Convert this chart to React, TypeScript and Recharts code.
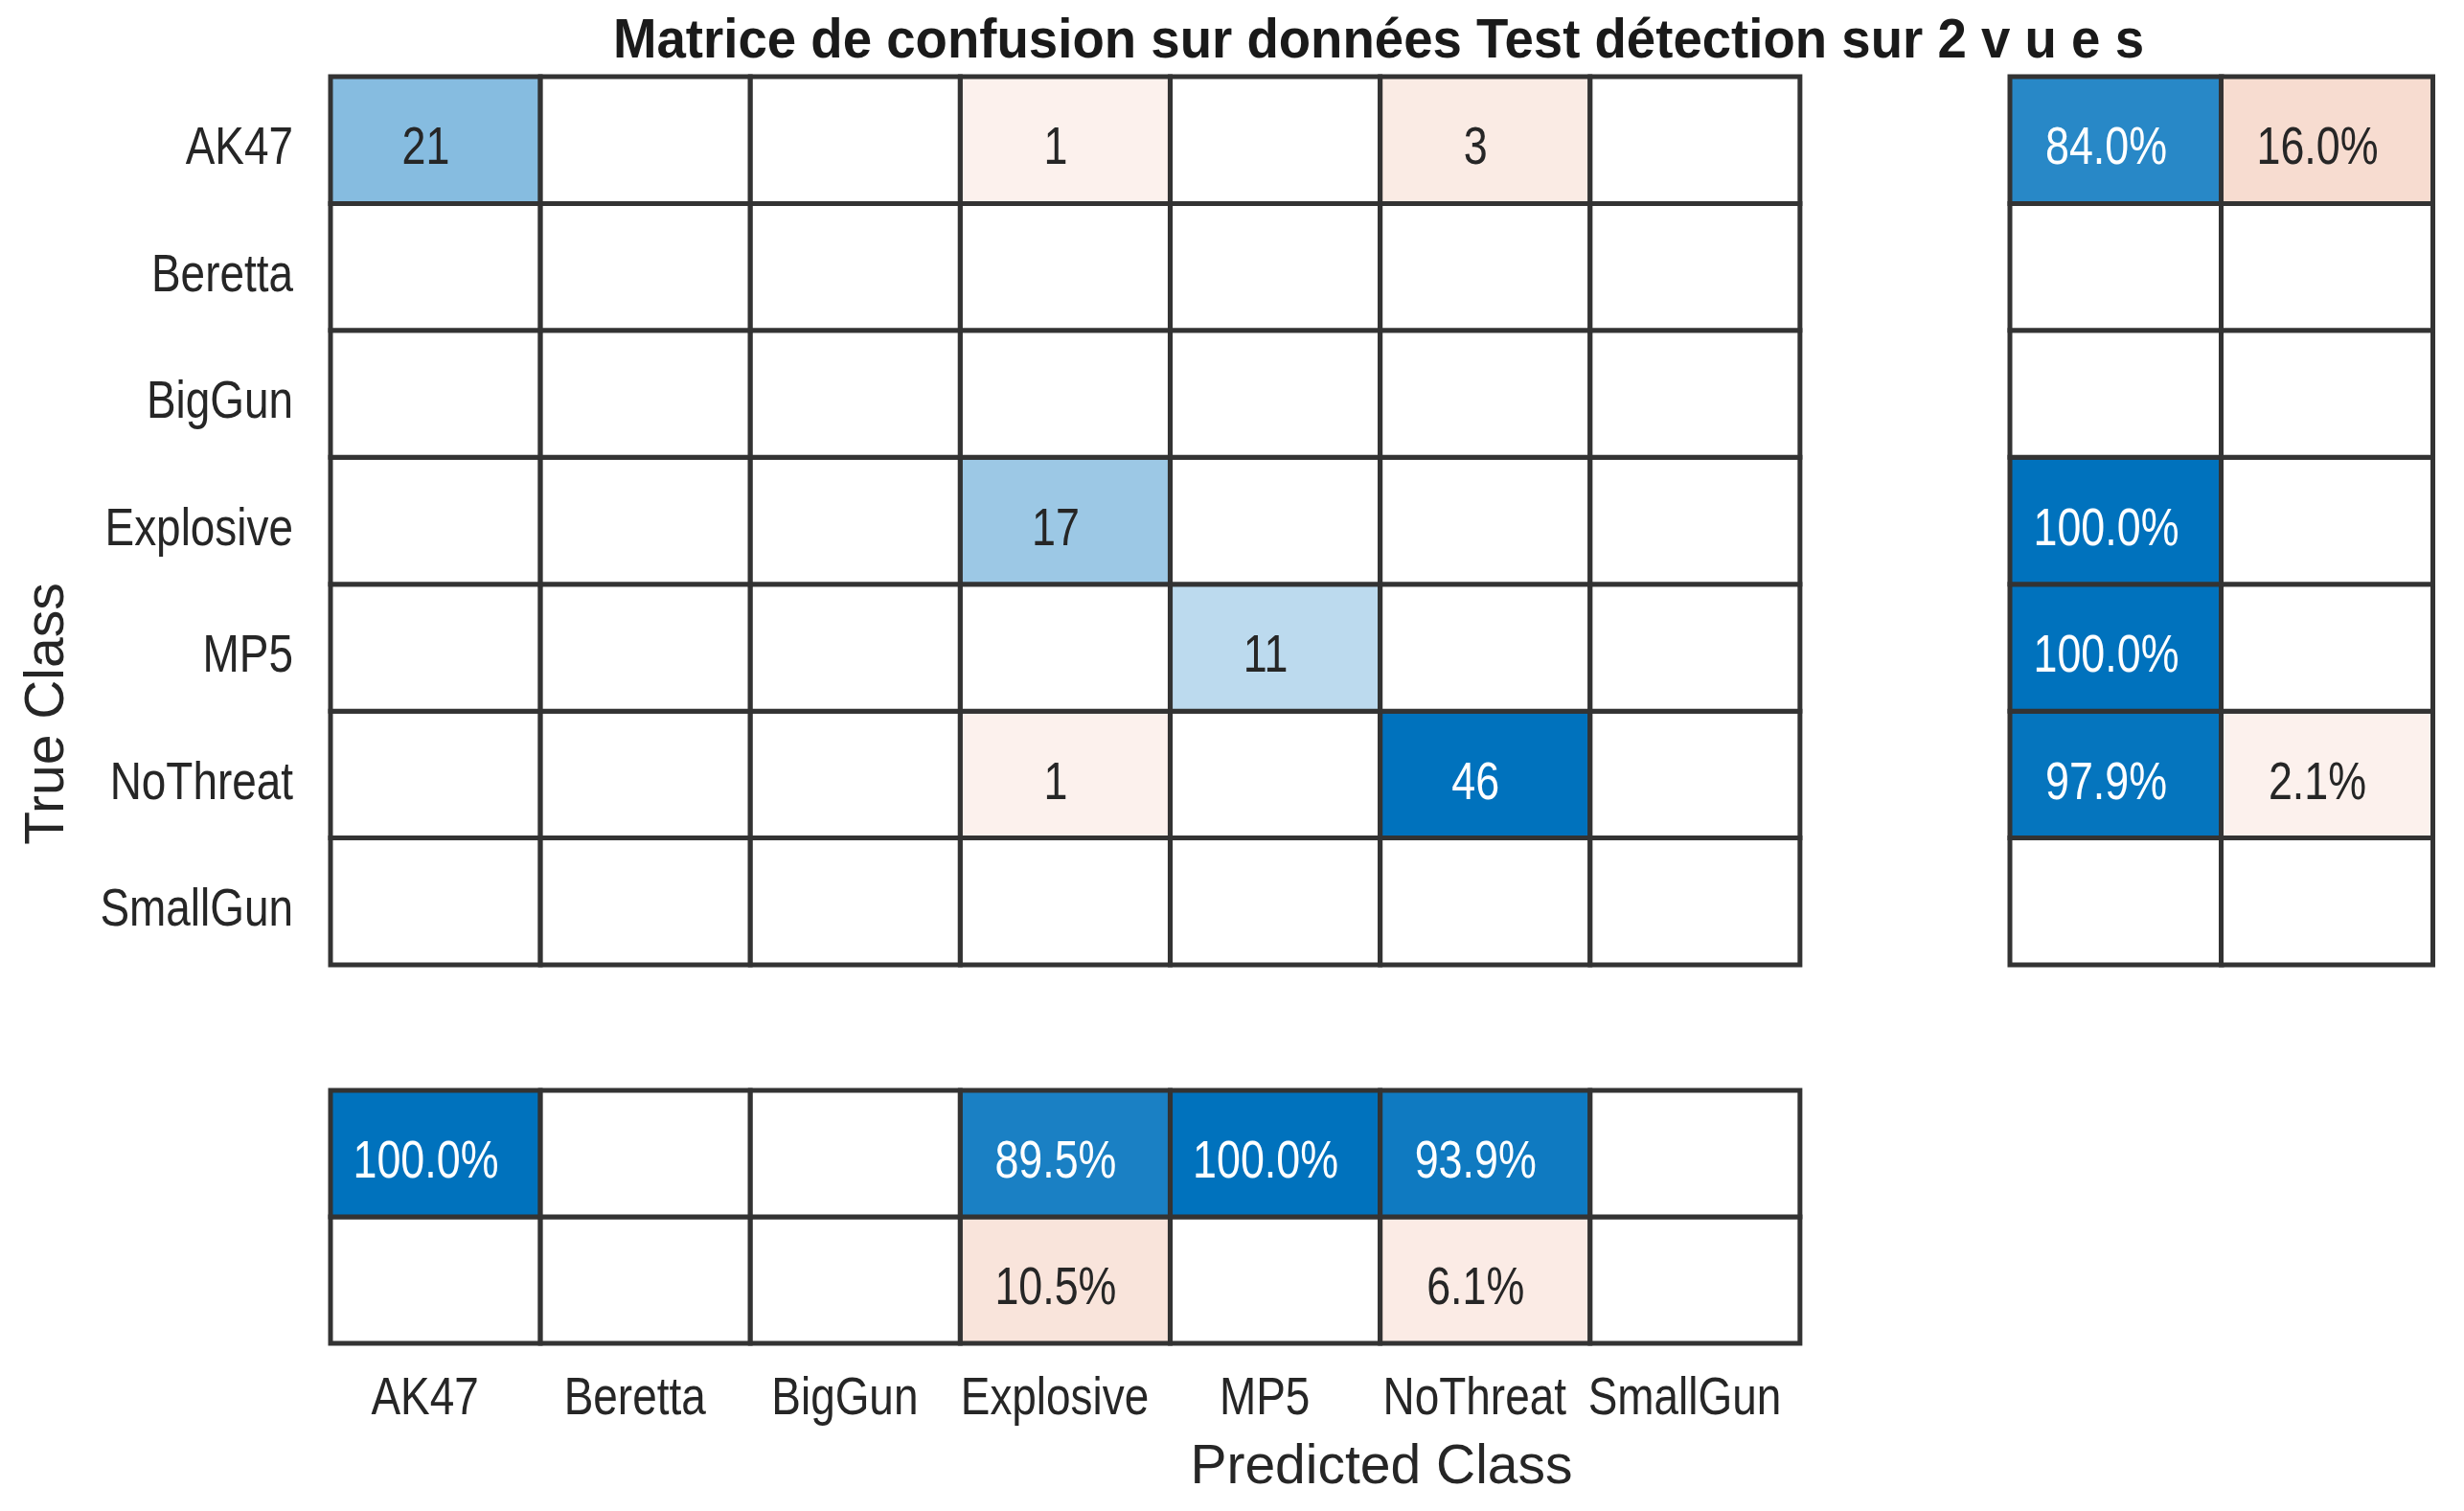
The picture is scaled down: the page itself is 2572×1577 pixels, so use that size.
import { BarChart, Bar, XAxis, YAxis, Cell, LabelList } from 'recharts'

// classes (true = rows, predicted = columns)
const classes = ['AK47', 'Beretta', 'BigGun', 'Explosive', 'MP5', 'NoThreat', 'SmallGun']

// confusion counts, counts[true][predicted]
const counts = [
  [21, 0, 0, 1, 0, 3, 0],
  [0, 0, 0, 0, 0, 0, 0],
  [0, 0, 0, 0, 0, 0, 0],
  [0, 0, 0, 17, 0, 0, 0],
  [0, 0, 0, 0, 11, 0, 0],
  [0, 0, 0, 1, 0, 46, 0],
  [0, 0, 0, 0, 0, 0, 0],
]

// row summary (per true class), percent
const rowCorrect = [84.0, 0, 0, 100.0, 100.0, 97.9, 0]
const rowWrong = [16.0, 0, 0, 0, 0, 2.1, 0]

// column summary (per predicted class), percent
const colCorrect = [100.0, 0, 0, 89.5, 100.0, 93.9, 0]
const colWrong = [0, 0, 0, 10.5, 0, 6.1, 0]

const summaryCols = ['correct', 'wrong']

const FONT = '"Liberation Sans", Arial, sans-serif'
const GRID = '#333333'
const TEXT = '#262626'
const BLUE = [0, 114, 189]
const ORANGE = [217, 83, 25]

function mix(c: number[], t: number) {
  const ch = c.map((v) => Math.round(255 + (v - 255) * t))
  return `rgb(${ch[0]},${ch[1]},${ch[2]})`
}

const blueT = (t: number) => Math.min(1, 0.03 + 0.97 * t)
const orangeT = (t: number) => Math.min(1, 0.06 + 0.9 * t)

function fillFor(t: number, good: boolean) {
  if (t <= 0) return '#ffffff'
  return good ? mix(BLUE, blueT(t)) : mix(ORANGE, orangeT(t))
}

function textFor(t: number, good: boolean) {
  return good && blueT(t) > 0.5 ? '#ffffff' : TEXT
}

const pct = (v: number) => (v > 0 ? v.toFixed(1) + '%' : '')

const maxCount = Math.max(...counts.flat())
const rowTicks = classes.map((_, i) => i + 0.5)
const rowOrder = classes.map((_, i) => classes.length - 1 - i)

const mainData = classes.map((name, j) => {
  const o: any = { name }
  counts.forEach((r, i) => {
    o[`r${i}`] = 1
    o[`c${i}`] = r[j]
  })
  return o
})

const rightData = summaryCols.map((name, k) => {
  const src = k === 0 ? rowCorrect : rowWrong
  const o: any = { name }
  classes.forEach((_, i) => {
    o[`r${i}`] = 1
    o[`v${i}`] = src[i]
  })
  return o
})

const bottomData = classes.map((name, j) => ({
  name,
  correct: 1,
  wrong: 1,
  vc: colCorrect[j],
  vw: colWrong[j],
}))

function CellText(p: any, text: string, color: string) {
  if (!text) return null
  const vb = p.viewBox && p.viewBox.width != null ? p.viewBox : p
  const cx = vb.x + vb.width / 2 - 10
  const cy = vb.y + vb.height / 2 + 5
  return (
    <text
      transform={`translate(${cx},${cy}) scale(0.8,1)`}
      textAnchor="middle"
      dy="0.36em"
      fontSize={56}
      fontFamily={FONT}
      fill={color}
    >
      {text}
    </text>
  )
}

function YTick(p: any) {
  const name = classes[classes.length - 1 - Math.floor(p.payload.value)]
  return (
    <text
      transform={`translate(${p.x - 31},${p.y + 5}) scale(0.82,1)`}
      textAnchor="end"
      dy="0.36em"
      fontSize={56}
      fontFamily={FONT}
      fill={TEXT}
    >
      {name}
    </text>
  )
}

function XTick(p: any) {
  return (
    <text
      transform={`translate(${p.x - 11},${p.y + 74}) scale(0.82,1)`}
      textAnchor="middle"
      fontSize={56}
      fontFamily={FONT}
      fill={TEXT}
    >
      {p.payload.value}
    </text>
  )
}

export default function App() {
  return (
    <div style={{ position: 'absolute', left: 0, top: 0, width: 2572, height: 1577, background: '#fff' }}>
      {/* main matrix */}
      <div style={{ position: 'absolute', left: 0, top: 0 }}>
        <BarChart
          width={1889}
          height={1017}
          data={mainData}
          margin={{ top: 80, right: 10, bottom: 10, left: 0 }}
          barCategoryGap={0}
          barGap={0}
        >
          <XAxis dataKey="name" hide />
          <YAxis
            type="number"
            domain={[0, 7]}
            ticks={rowTicks}
            interval={0}
            width={345}
            axisLine={false}
            tickLine={false}
            tick={YTick}
          />
          {rowOrder.map((i) => (
            <Bar key={i} dataKey={`r${i}`} stackId="m" isAnimationActive={false} stroke={GRID} strokeWidth={5}>
              {classes.map((_, j) => (
                <Cell key={j} fill={fillFor(counts[i][j] / maxCount, i === j)} />
              ))}
              <LabelList
                dataKey={`c${i}`}
                content={(p: any) => {
                  const v = counts[i][p.index]
                  return CellText(p, v > 0 ? String(v) : '', textFor(v / maxCount, i === p.index))
                }}
              />
            </Bar>
          ))}
        </BarChart>
      </div>

      {/* row summary */}
      <div style={{ position: 'absolute', left: 2088, top: 70 }}>
        <BarChart
          width={461}
          height={947}
          data={rightData}
          margin={{ top: 10, right: 10, bottom: 10, left: 10 }}
          barCategoryGap={0}
          barGap={0}
        >
          <XAxis dataKey="name" hide />
          <YAxis type="number" domain={[0, 7]} hide />
          {rowOrder.map((i) => (
            <Bar key={i} dataKey={`r${i}`} stackId="s" isAnimationActive={false} stroke={GRID} strokeWidth={5}>
              {summaryCols.map((_, k) => {
                const v = (k === 0 ? rowCorrect : rowWrong)[i]
                return <Cell key={k} fill={fillFor(v / 100, k === 0)} />
              })}
              <LabelList
                dataKey={`v${i}`}
                content={(p: any) => {
                  const v = (p.index === 0 ? rowCorrect : rowWrong)[i]
                  return CellText(p, pct(v), textFor(v / 100, p.index === 0))
                }}
              />
            </Bar>
          ))}
        </BarChart>
      </div>

      {/* column summary */}
      <div style={{ position: 'absolute', left: 0, top: 1128 }}>
        <BarChart
          width={1889}
          height={449}
          data={bottomData}
          margin={{ top: 10, right: 10, bottom: 10, left: 345 }}
          barCategoryGap={0}
          barGap={0}
        >
          <XAxis
            dataKey="name"
            height={165}
            interval={0}
            axisLine={false}
            tickLine={false}
            tickSize={0}
            tickMargin={0}
            tick={XTick}
          />
          <YAxis type="number" domain={[0, 2]} hide />
          <Bar dataKey="wrong" stackId="b" isAnimationActive={false} stroke={GRID} strokeWidth={5}>
            {colWrong.map((v, j) => (
              <Cell key={j} fill={fillFor(v / 100, false)} />
            ))}
            <LabelList dataKey="vw" content={(p: any) => CellText(p, pct(colWrong[p.index]), TEXT)} />
          </Bar>
          <Bar dataKey="correct" stackId="b" isAnimationActive={false} stroke={GRID} strokeWidth={5}>
            {colCorrect.map((v, j) => (
              <Cell key={j} fill={fillFor(v / 100, true)} />
            ))}
            <LabelList
              dataKey="vc"
              content={(p: any) => {
                const v = colCorrect[p.index]
                return CellText(p, pct(v), textFor(v / 100, true))
              }}
            />
          </Bar>
        </BarChart>
      </div>

      {/* title and axis titles */}
      <svg
        width={2572}
        height={1577}
        style={{ position: 'absolute', left: 0, top: 0, pointerEvents: 'none' }}
        fontFamily={FONT}
      >
        <text x={1439} y={60} textAnchor="middle" fontSize={58} fontWeight="bold" fill="#1a1a1a" textLength={1598} lengthAdjust="spacingAndGlyphs">
          Matrice de confusion sur données Test détection sur 2 v u e s
        </text>
        <text x={1442} y={1548} textAnchor="middle" fontSize={57} fill={TEXT}>
          Predicted Class
        </text>
        <text transform="translate(66,745) rotate(-90)" textAnchor="middle" fontSize={57} fill={TEXT}>
          True Class
        </text>
      </svg>
    </div>
  )
}
